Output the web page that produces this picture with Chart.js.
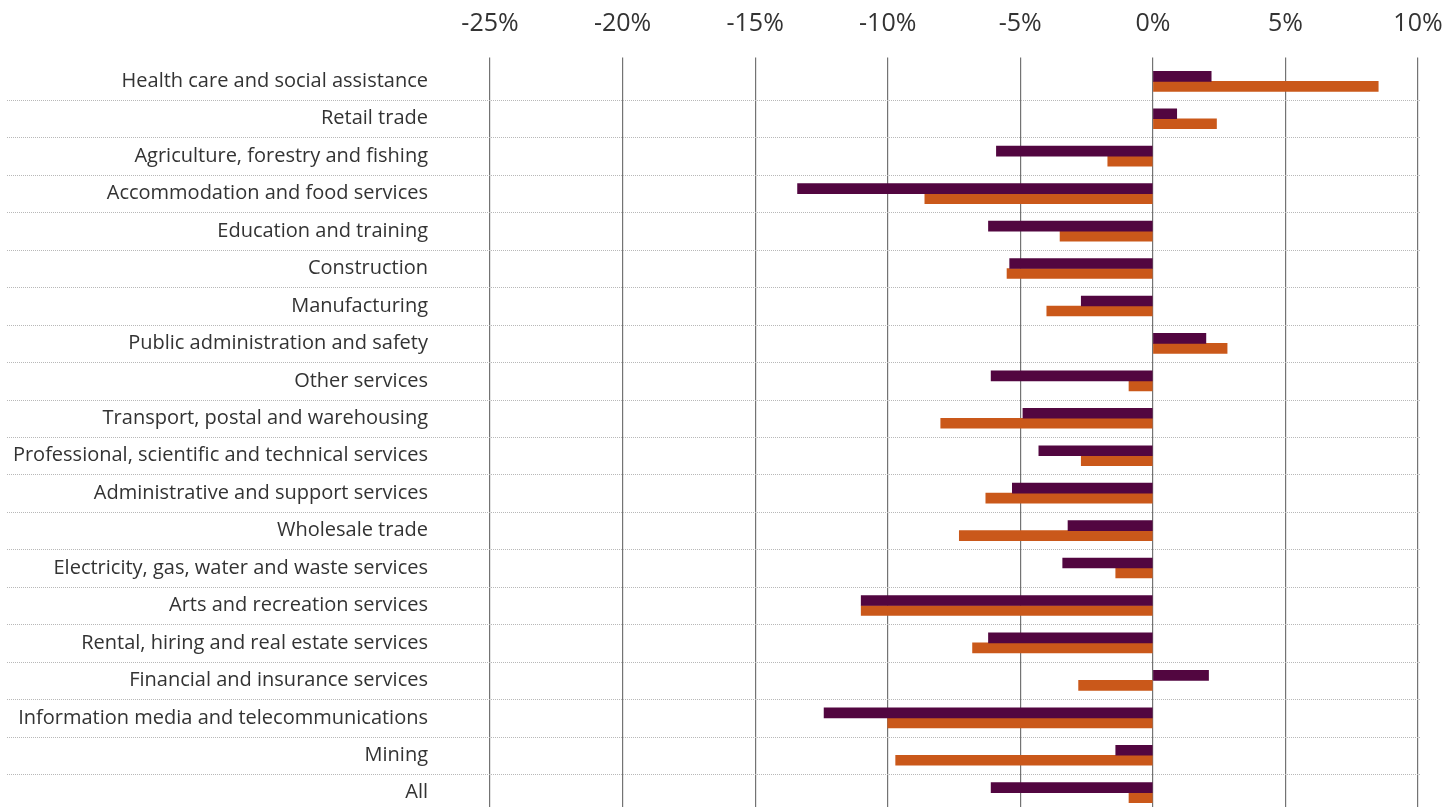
<!DOCTYPE html>
<html>
<head>
<meta charset="utf-8">
<script src="https://cdn.jsdelivr.net/npm/chart.js@4/dist/chart.umd.min.js"></script>
<style>
  html, body { margin: 0; padding: 0; background: #fff; overflow: hidden; }
  canvas { display: block; }
</style>
</head>
<body>
<canvas id="industryChart" width="1454" height="824"></canvas>
<script>
const industries = [
  "Health care and social assistance",
  "Retail trade",
  "Agriculture, forestry and fishing",
  "Accommodation and food services",
  "Education and training",
  "Construction",
  "Manufacturing",
  "Public administration and safety",
  "Other services",
  "Transport, postal and warehousing",
  "Professional, scientific and technical services",
  "Administrative and support services",
  "Wholesale trade",
  "Electricity, gas, water and waste services",
  "Arts and recreation services",
  "Rental, hiring and real estate services",
  "Financial and insurance services",
  "Information media and telecommunications",
  "Mining",
  "All"
];

// percentage change, first series (purple)
const seriesA = [2.2, 0.9, -5.9, -13.4, -6.2, -5.4, -2.7, 2.0, -6.1, -4.9,
                 -4.3, -5.3, -3.2, -3.4, -11.0, -6.2, 2.1, -12.4, -1.4, -6.1];
// percentage change, second series (orange)
const seriesB = [8.5, 2.4, -1.7, -8.6, -3.5, -5.5, -4.0, 2.8, -0.9, -8.0,
                 -2.7, -6.3, -7.3, -1.4, -11.0, -6.8, -2.8, -10.0, -9.7, -0.9];

const axisMin = -25;
const axisMax = 10;
const axisStep = 5;

const textColor = "#333333";
const fontFamily = "'Open Sans', sans-serif";

// dotted separators between the rows, running under the labels too
const rowSeparators = {
  id: "rowSeparators",
  beforeDatasetsDraw(chart) {
    const y = chart.scales.y;
    const ctx = chart.ctx;
    ctx.save();
    ctx.strokeStyle = "#b8b8b8";
    ctx.lineWidth = 1;
    ctx.setLineDash([1, 1]);
    for (let i = 1; i <= industries.length; i++) {
      const prev = y.getPixelForTick(i - 1);
      const next = i < industries.length ? y.getPixelForTick(i) : prev + (prev - y.getPixelForTick(i - 2));
      const py = Math.round((prev + next) / 2) + 0.5;
      ctx.beginPath();
      ctx.moveTo(7, py);
      ctx.lineTo(chart.chartArea.right + 2, py);
      ctx.stroke();
    }
    ctx.restore();
  }
};

new Chart(document.getElementById("industryChart"), {
  type: "bar",
  data: {
    labels: industries,
    datasets: [
      { label: "Series A", data: seriesA, backgroundColor: "#520640", barThickness: 10 },
      { label: "Series B", data: seriesB, backgroundColor: "#ca581a", barThickness: 10 }
    ]
  },
  options: {
    indexAxis: "y",
    responsive: false,
    animation: false,
    devicePixelRatio: 1,
    layout: { padding: { top: 9, right: 36, left: 0, bottom: 12.6 } },
    plugins: {
      legend: { display: false },
      tooltip: { enabled: false }
    },
    scales: {
      x: {
        position: "top",
        min: axisMin,
        max: axisMax,
        afterFit: s => { s.height = 53.6; },
        ticks: {
          stepSize: axisStep,
          padding: 10,
          color: textColor,
          font: { family: fontFamily, size: 25, lineHeight: 1.9 },
          callback: v => v + "%"
        },
        grid: { color: "#737373", lineWidth: 1.2, tickLength: 5 },
        border: { display: false }
      },
      y: {
        afterFit: s => { s.width = 490; },
        ticks: {
          padding: 0,
          color: textColor,
          font: { family: fontFamily, size: 20 }
        },
        // invisible tick marks only push the labels away from the plot
        grid: { color: "rgba(0,0,0,0)", drawOnChartArea: false, tickLength: 62 },
        border: { display: false }
      }
    }
  },
  plugins: [rowSeparators]
});
</script>
</body>
</html>
